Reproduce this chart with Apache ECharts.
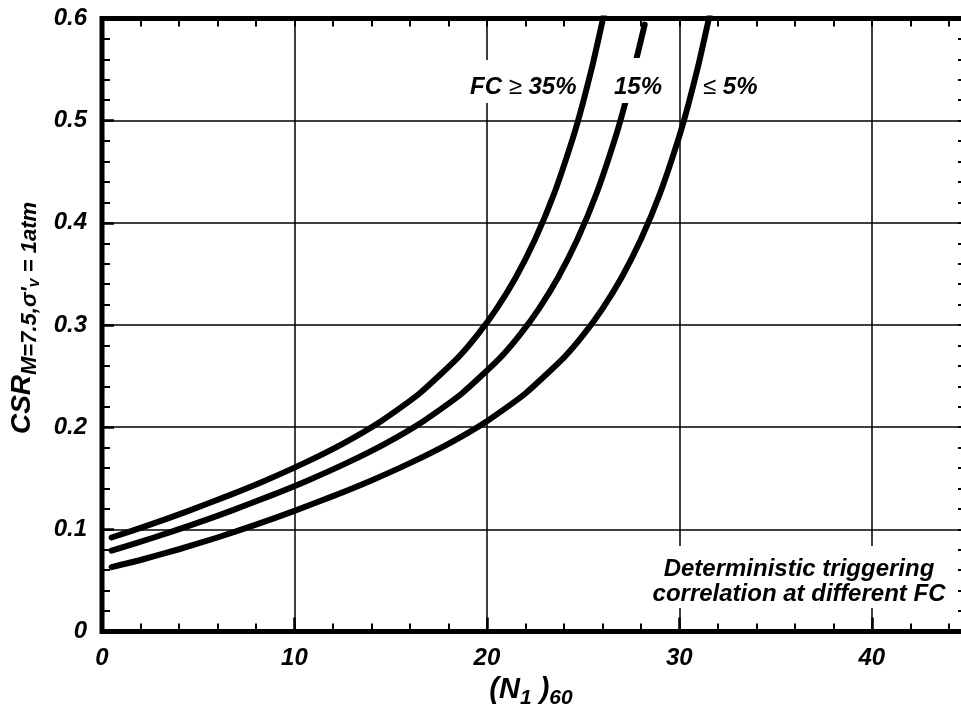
<!DOCTYPE html>
<html><head><meta charset="utf-8">
<script src="https://cdn.jsdelivr.net/npm/echarts@6/dist/echarts.min.js"></script>
<style>html,body{margin:0;padding:0;background:#fff}#c{width:961px;height:713px}</style>
</head><body><div id="c"></div>
<script>
// ---- data ----
const xRange = [0, 45];
const yRange = [0, 0.6];
const xMajorStep = 10, xMinorStep = 2;
const yMajorStep = 0.1, yMinorStep = 0.02;

// FC <= 5%
const curveFC5 = [[0.5,0.063],[2,0.070],[4,0.0805],[6,0.0920],[8,0.1046],[10,0.1181],[12,0.1325],[14,0.1479],[16,0.1648],[18,0.1837],[20,0.2059],[22,0.2330],[24,0.2681],[25,0.2900],[26,0.3158],[27,0.3465],[28,0.3836],[29,0.4289],[30,0.4849],[30.5,0.5180],[31,0.5551],[31.5,0.5969],[31.6,0.6059]];
// FC = 15%
const curveFC15 = [[0.5,0.0792],[2.7,0.0920],[4.7,0.1046],[6.7,0.1181],[8.7,0.1325],[10.7,0.1479],[12.7,0.1648],[14.7,0.1837],[16.7,0.2059],[18.7,0.2330],[20.7,0.2681],[21.7,0.2900],[22.7,0.3158],[23.7,0.3465],[24.7,0.3836],[25.7,0.4289],[26.7,0.4849],[27.2,0.5180],[27.7,0.5551],[28.2,0.5940]];
// FC >= 35%
const curveFC35 = [[0.5,0.0920],[2.5,0.1046],[4.5,0.1181],[6.5,0.1325],[8.5,0.1479],[10.5,0.1648],[12.5,0.1837],[14.5,0.2059],[16.5,0.2330],[18.5,0.2681],[19.5,0.2900],[20.5,0.3158],[21.5,0.3465],[22.5,0.3836],[23.5,0.4289],[24.5,0.4849],[25,0.5180],[25.5,0.5551],[26,0.5969],[26.1,0.6059]];

const labelFC35 = ['FC ', '≥', ' 35%'];
const labelFC15 = '15%';
const labelFC5 = ['≤', ' 5%'];
const noteLines = ['Deterministic triggering', 'correlation at different FC'];

// ---- chart ----
const FONT = "'Liberation Sans', Arial, sans-serif";
const tickLabel = {fontFamily: FONT, fontSize: 24, fontWeight: 'bold', fontStyle: 'italic', color: '#000'};
const boldIt = (size, extra) => Object.assign({fontFamily: FONT, fontSize: size, fontWeight: 'bold', fontStyle: 'italic', color: '#000'}, extra || {});

function minorAxis(pos, range, step, len) {
  return {
    type: 'value', position: pos, min: range[0], max: range[1], interval: step,
    axisLine: {show: false, onZero: false},
    axisTick: {show: true, inside: true, length: len, lineStyle: {color: '#000', width: 2}},
    axisLabel: {show: false}, splitLine: {show: false}
  };
}

const chart = echarts.init(document.getElementById('c'), null, {renderer: 'canvas'});
const lineSeries = (data) => ({
  type: 'line', data: data, xAxisIndex: 0, yAxisIndex: 0, symbol: 'none',
  smooth: 0.2, clip: true,
  lineStyle: {color: '#000', width: 6, cap: 'round', join: 'round'}
});

chart.setOption({
  animation: false,
  backgroundColor: '#fff',
  grid: {left: 102, right: -7, top: 18.5, bottom: 81.5, show: true, borderColor: '#000', borderWidth: 5,
         backgroundColor: 'transparent', containLabel: false, outerBoundsMode: 'none'},
  xAxis: [
    {
      type: 'value', position: 'bottom', min: xRange[0], max: xRange[1], interval: xMajorStep,
      axisLine: {show: false, onZero: false},
      axisTick: {show: true, inside: true, length: 14, lineStyle: {color: '#000', width: 2.5}},
      axisLabel: Object.assign({margin: 15, showMaxLabel: false}, tickLabel),
      splitLine: {show: true, lineStyle: {color: '#000', width: 1.5}},
      name: '{m|(N}{s|1}{m| )}{s|60}',
      nameLocation: 'middle', nameGap: 37,
      nameTextStyle: {padding: [0, 8, 0, 0], rich: {
        m: boldIt(29, {lineHeight: 32}),
        s: boldIt(21, {padding: [16, 0, 0, 0]})
      }}
    },
    minorAxis('bottom', xRange, xMinorStep, 8),
    minorAxis('top', xRange, xMinorStep, 8)
  ],
  yAxis: [
    {
      type: 'value', position: 'left', min: yRange[0], max: yRange[1], interval: yMajorStep,
      axisLine: {show: false, onZero: false},
      axisTick: {show: true, inside: true, length: 12, lineStyle: {color: '#000', width: 2.5}},
      axisLabel: Object.assign({margin: 15}, tickLabel),
      splitLine: {show: true, lineStyle: {color: '#000', width: 1.5}},
      name: "{m|CSR}{s|M=7.5,σ'}{v|v}{s| = 1atm}",
      nameLocation: 'middle', nameGap: 57,
      nameTextStyle: {padding: [0, 0, 0, 14], rich: {
        m: boldIt(28, {lineHeight: 30}),
        s: boldIt(22, {padding: [15, 0, 0, 0]}),
        v: boldIt(16, {padding: [24, 0, 0, 0]})
      }}
    },
    minorAxis('left', yRange, yMinorStep, 8),
    minorAxis('right', yRange, yMinorStep, 10)
  ],
  series: [lineSeries(curveFC5), lineSeries(curveFC15), lineSeries(curveFC35)],
  graphic: [
    {
      type: 'text', x: 467, y: 60, z: 100,
      style: {
        text: '{a|' + labelFC35[0] + '}{s|' + labelFC35[1] + '}{a|' + labelFC35[2] + '}',
        align: 'left', verticalAlign: 'top', backgroundColor: '#fff', padding: [14, 3, 3, 3],
        rich: {
          a: boldIt(24, {lineHeight: 26, fill: '#000'}),
          s: {fontFamily: FONT, fontSize: 24, fontWeight: 'normal', fontStyle: 'normal', lineHeight: 26, fill: '#000'}
        }
      }
    },
    {
      type: 'text', x: 611, y: 58, z: 100,
      style: {
        text: '{a|' + labelFC15 + '}',
        align: 'left', verticalAlign: 'top', backgroundColor: '#fff', padding: [16, 3, 3, 3],
        rich: {a: boldIt(24, {lineHeight: 26, fill: '#000'})}
      }
    },
    {
      type: 'text', x: 703, y: 74, z: 100,
      style: {
        text: '{s|' + labelFC5[0] + '}{a|' + labelFC5[1] + '}',
        align: 'left', verticalAlign: 'top',
        rich: {
          a: boldIt(24, {lineHeight: 26, fill: '#000'}),
          s: {fontFamily: FONT, fontSize: 24, fontWeight: 'normal', fontStyle: 'normal', lineHeight: 26, fill: '#000'}
        }
      }
    },
    {
      type: 'text', x: 799, y: 546, z: 100,
      style: {
        text: noteLines.join('\n'),
        font: "italic bold 24px 'Liberation Sans', Arial, sans-serif",
        fill: '#000', lineHeight: 25,
        align: 'center', verticalAlign: 'top', backgroundColor: '#fff', padding: [11, 6, 1, 6]
      }
    }
  ]
});
</script>
</body></html>
